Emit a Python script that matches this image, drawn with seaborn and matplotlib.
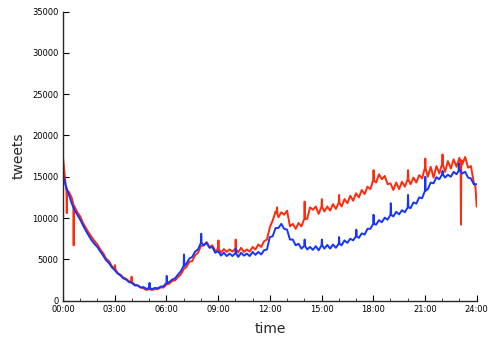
import matplotlib
matplotlib.use('Agg')
import matplotlib.pyplot as plt
import matplotlib.ticker as mticker
import numpy as np
import pandas as pd
import seaborn as sns

# tweets, read every 10 minutes (hours 0..24, step 1/6)
grid_hours = np.arange(145) / 6.0

red_vals = [
    17400, 13700, 13200, 12500, 11400, 10700,
    10200, 9400, 8800, 8200, 7700, 7200,
    6800, 6200, 5750, 5100, 4800, 4200,
    3850, 3350, 3150, 2800, 2650, 2350,
    2250, 1950, 1850, 1600, 1500, 1300,
    1400, 1300, 1400, 1400, 1600, 1600,
    1950, 2050, 2400, 2450, 2850, 3150,
    3800, 4100, 4700, 4800, 5500, 5800,
    6600, 6700, 7100, 6500, 6700, 6000,
    6300, 5800, 6250, 5900, 6200, 5950,
    6300, 5850, 6400, 5900, 6200, 5950,
    6500, 6200, 6800, 6500, 7200, 7400,
    8900, 9700, 10800, 10100, 10700, 10400,
    10900, 9000, 9300, 8700, 9400, 9000,
    9900, 9900, 11300, 11000, 11400, 10500,
    11400, 10800, 11400, 10900, 11700, 11100,
    11900, 11400, 12300, 11800, 12700, 12100,
    13000, 12500, 13400, 12900, 13800, 13500,
    14600, 14300, 15300, 14700, 15100, 14100,
    14200, 13400, 14300, 13500, 14400, 13800,
    14700, 14100, 14900, 14300, 15200, 14800,
    16100, 15000, 16200, 14900, 16300, 15400,
    16600, 15600, 16900, 16000, 17100, 16200,
    17300, 16500, 17400, 16100, 16300, 14300,
    11400,
]

blue_vals = [
    15300, 13900, 12900, 11800, 11000, 10400,
    9800, 9100, 8450, 7850, 7300, 6850,
    6500, 5950, 5450, 4900, 4550, 4050,
    3700, 3300, 3050, 2700, 2550, 2250,
    2150, 1850, 1850, 1600, 1650, 1450,
    1500, 1400, 1550, 1500, 1700, 1750,
    2150, 2250, 2550, 2700, 3150, 3550,
    4200, 4500, 5100, 5300, 5950, 6200,
    7000, 6700, 7000, 6400, 6500, 5800,
    6000, 5450, 5800, 5400, 5700, 5400,
    5750, 5300, 5800, 5450, 5700, 5400,
    5900, 5550, 5900, 5600, 6100, 6200,
    7700, 7800, 8800, 8800, 9300, 8700,
    8600, 7400, 7400, 6700, 6900, 6300,
    6650, 6200, 6500, 6150, 6600, 6100,
    6700, 6300, 6750, 6300, 6800, 6400,
    6900, 6700, 7300, 7000, 7500, 7300,
    7800, 7600, 8150, 8000, 8700, 8700,
    9300, 9200, 9750, 9500, 10050, 9800,
    10400, 10200, 10750, 10450, 10950, 10700,
    11300, 11200, 11900, 11750, 12500, 12400,
    13300, 13500, 14300, 14200, 14950, 14700,
    15300, 14900, 15250, 15000, 15600, 15300,
    15850, 15400, 15600, 14900, 14800, 14100,
    14100,
]

# short spikes: (flank, peak, flank) points
red_spike_hours = [0.20, 0.22, 0.24, 0.60, 0.62, 0.64,
                   3.00, 3.02, 3.04, 3.96, 3.98, 4.00,
                   9.00, 9.02, 9.04, 10.00, 10.02, 10.04,
                   12.40, 12.42, 12.44, 14.00, 14.02, 14.04,
                   15.00, 15.02, 15.04, 16.00, 16.02, 16.04,
                   18.00, 18.02, 18.04, 20.00, 20.02, 20.04,
                   21.00, 21.02, 21.04, 22.00, 22.02, 22.04,
                   23.07, 23.09, 23.11, 23.93]
red_spike_vals = [13300, 10600, 13200, 11700, 6700, 11500,
                  3850, 4300, 3800, 2250, 2900, 2250,
                  6300, 7300, 6250, 6300, 7400, 6250,
                  10600, 11300, 10500, 9900, 12000, 9900,
                  11400, 12300, 11350, 11900, 12800, 11850,
                  14600, 15800, 14550, 14700, 15800, 14650,
                  16100, 17200, 16000, 16600, 17700, 16500,
                  16600, 9200, 17000, 13800]

blue_spike_hours = [5.00, 5.02, 5.04, 6.00, 6.02, 6.04,
                    7.00, 7.02, 7.04, 8.00, 8.02, 8.04,
                    10.00, 10.02, 10.04, 14.00, 14.02, 14.04,
                    15.00, 15.02, 15.04, 16.00, 16.02, 16.04,
                    17.00, 17.02, 17.04, 18.00, 18.02, 18.04,
                    19.00, 19.02, 19.04, 20.00, 20.02, 20.04,
                    21.00, 21.02, 21.04, 22.00, 22.02, 22.04,
                    22.95, 22.97, 22.99]
blue_spike_vals = [1500, 2150, 1500, 2150, 3000, 2150,
                   4200, 5600, 4200, 7000, 8100, 7000,
                   5750, 6300, 5750, 6650, 7400, 6650,
                   6700, 7400, 6700, 6900, 7700, 6900,
                   7800, 8600, 7800, 9300, 10400, 9300,
                   10400, 11800, 10400, 11300, 12800, 11300,
                   13300, 15000, 13300, 15300, 15700, 15300,
                   15700, 16600, 15800]

red_df = pd.DataFrame({'time': np.concatenate([grid_hours, red_spike_hours]),
                       'tweets': np.concatenate([red_vals, red_spike_vals]),
                       'series': 'red'})
blue_df = pd.DataFrame({'time': np.concatenate([grid_hours, blue_spike_hours]),
                        'tweets': np.concatenate([blue_vals, blue_spike_vals]),
                        'series': 'blue'})
df = pd.concat([red_df, blue_df], ignore_index=True)

sns.set_style('ticks')
plt.rcParams['font.family'] = ['DejaVu Sans']

fig = plt.figure(figsize=(4.96, 3.39), dpi=100)
ax = fig.add_axes([0.127, 0.113, 0.834, 0.853])

sns.lineplot(data=df, x='time', y='tweets', hue='series', hue_order=['red', 'blue'],
             palette={'red': '#ff2a0a', 'blue': '#1535ff'}, estimator=None, sort=True,
             linewidth=1.4, legend=False, ax=ax)

ax.set_xlim(0, 24)
ax.set_ylim(0, 35000)
ax.xaxis.set_major_locator(mticker.MultipleLocator(3))
ax.xaxis.set_minor_locator(mticker.MultipleLocator(1))
ax.xaxis.set_major_formatter(mticker.FuncFormatter(lambda v, p: '%02d:00' % int(round(v))))
ax.yaxis.set_major_locator(mticker.MultipleLocator(5000))
ax.tick_params(axis='both', which='major', direction='in', length=4, width=0.8,
               labelsize=6, pad=3, colors='black')
ax.tick_params(axis='x', which='minor', direction='in', length=2.5, width=0.6)
for s in ['left', 'bottom']:
    ax.spines[s].set_linewidth(1.0)
sns.despine(ax=ax)

ax.set_xlabel('time', fontsize=10, labelpad=6)
ax.set_ylabel('tweets', fontsize=10, labelpad=5)

fig.savefig('out.png', dpi=100)
